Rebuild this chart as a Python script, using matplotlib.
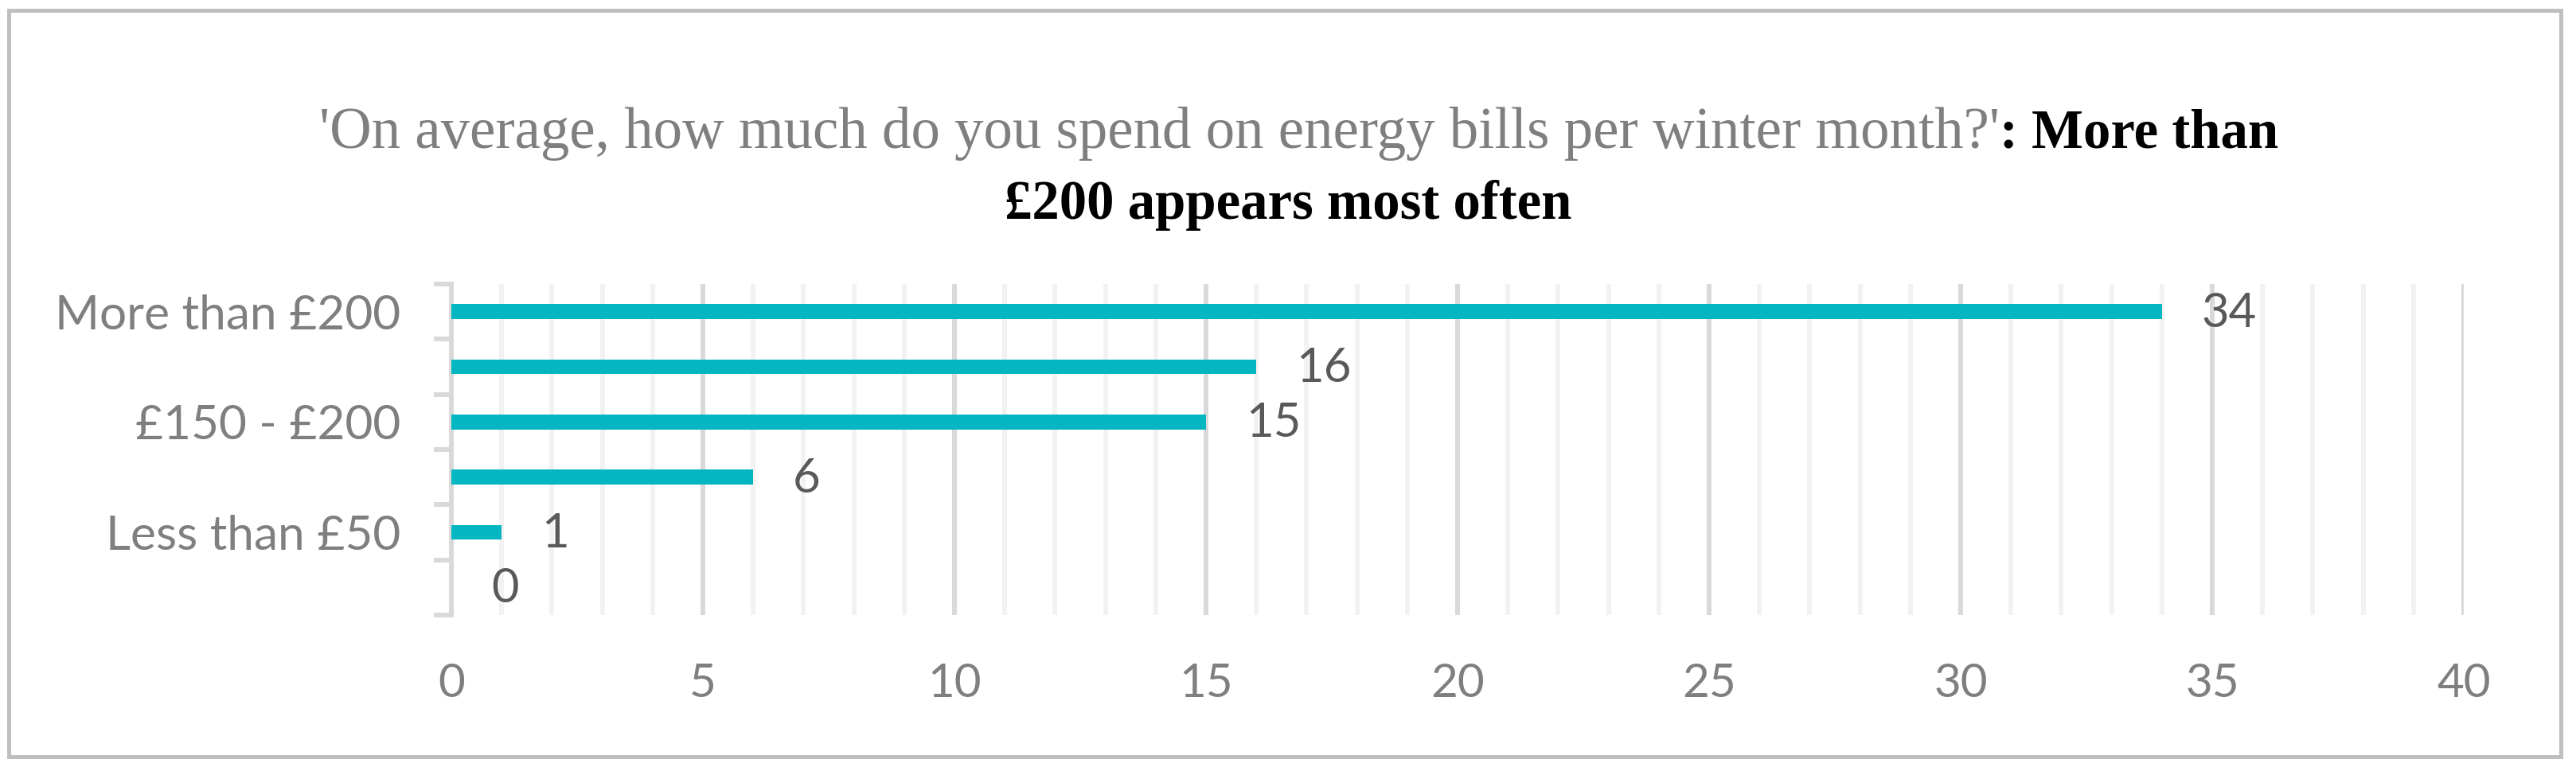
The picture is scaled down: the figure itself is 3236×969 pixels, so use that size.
import matplotlib
matplotlib.use("Agg")
import matplotlib.pyplot as plt
from matplotlib.patches import Rectangle
from matplotlib.ticker import MultipleLocator, FixedLocator

# ---- data ----
categories = ["More than £200", "£100 - £150", "£150 - £200", "£50 - £100", "Less than £50", "Don't know"]
values = [34, 16, 15, 6, 1, 0]
x_max = 40
title_plain = "'On average, how much do you spend on energy bills per winter month?'"
title_bold_1 = ": More than"
title_bold_2 = "£200 appears most often"

W, H = 3237, 969
DPI = 100
px = 72.0 / DPI  # points per pixel

fig = plt.figure(figsize=(W / DPI, H / DPI), dpi=DPI)
fig.patch.set_facecolor("white")

left, right = 567 / W, 3095 / W
top, bottom = 1 - 357 / H, 1 - 773 / H
ax = fig.add_axes([left, bottom, right - left, top - bottom])

bar_color = "#03B6C1"
label_font = "Lato"
ypos = list(range(len(categories)))
ax.barh(ypos, values, height=0.27, color=bar_color, zorder=3)

ax.set_xlim(0, x_max)
ax.set_ylim(len(categories) - 0.5, -0.5)

ax.xaxis.set_major_locator(MultipleLocator(5))
ax.xaxis.set_minor_locator(MultipleLocator(1))
ax.set_axisbelow(True)
ax.grid(which="minor", axis="x", color="#f2f2f2", lw=6 * px, zorder=0)
ax.grid(which="major", axis="x", color="#d9d9d9", lw=6 * px, zorder=1)
ax.grid(which="both", axis="y", visible=False)

ax.tick_params(axis="x", which="both", length=0)
ax.tick_params(axis="x", which="major", pad=60 * px, labelsize=42, labelcolor="#7f7f7f")
for lab in ax.get_xticklabels():
    lab.set_fontfamily(label_font)

# y: labels at centers (every other shown, as in the source), boundary ticks
ax.yaxis.set_major_locator(FixedLocator(ypos))
ax.set_yticklabels([c if i % 2 == 0 else "" for i, c in enumerate(categories)],
                   fontfamily=label_font, fontsize=43.5, color="#7f7f7f")
ax.tick_params(axis="y", which="major", length=0, pad=64 * px)
ax.yaxis.set_minor_locator(FixedLocator([i - 0.5 for i in range(len(categories) + 1)]))
ax.tick_params(axis="y", which="minor", length=22 * px, width=6 * px, color="#d9d9d9", direction="out")

for s in ["top", "right", "bottom"]:
    ax.spines[s].set_visible(False)
ax.spines["left"].set_color("#d9d9d9")
ax.spines["left"].set_linewidth(6 * px)

for y, v in zip(ypos, values):
    ax.annotate(str(v), xy=(v, y), xytext=(50 * px, -2 * px), textcoords="offset points",
                ha="left", va="center", fontsize=43, color="#595959", fontfamily=label_font)

# outer border
fig.add_artist(Rectangle((11 / W, 1 - 951 / H), (3217 - 11) / W, (951 - 13) / H,
                         transform=fig.transFigure, fill=False, ec="#bfbfbf", lw=5 * px))

# title (mixed styles)
serif = "Liberation Serif"
cx = 1632 / W
y1 = 1 - 186 / H
y2 = 1 - 275 / H
t1 = fig.text(0, y1, title_plain, fontfamily=serif, fontsize=52.5, color="#7f7f7f", va="baseline", ha="left")
t2 = fig.text(0, y1, title_bold_1, fontfamily=serif, fontsize=49.5, color="black",
              fontweight="bold", va="baseline", ha="left")
fig.text(1618 / W, y2, title_bold_2, fontfamily=serif, fontsize=49.5, color="black",
         fontweight="bold", va="baseline", ha="center")
r = fig.canvas.get_renderer()
w1 = t1.get_window_extent(r).width / W
w2 = t2.get_window_extent(r).width / W
x0 = cx - (w1 + w2) / 2
t1.set_x(x0)
t2.set_x(x0 + w1)

fig.savefig("out.png", dpi=DPI, facecolor="white")
